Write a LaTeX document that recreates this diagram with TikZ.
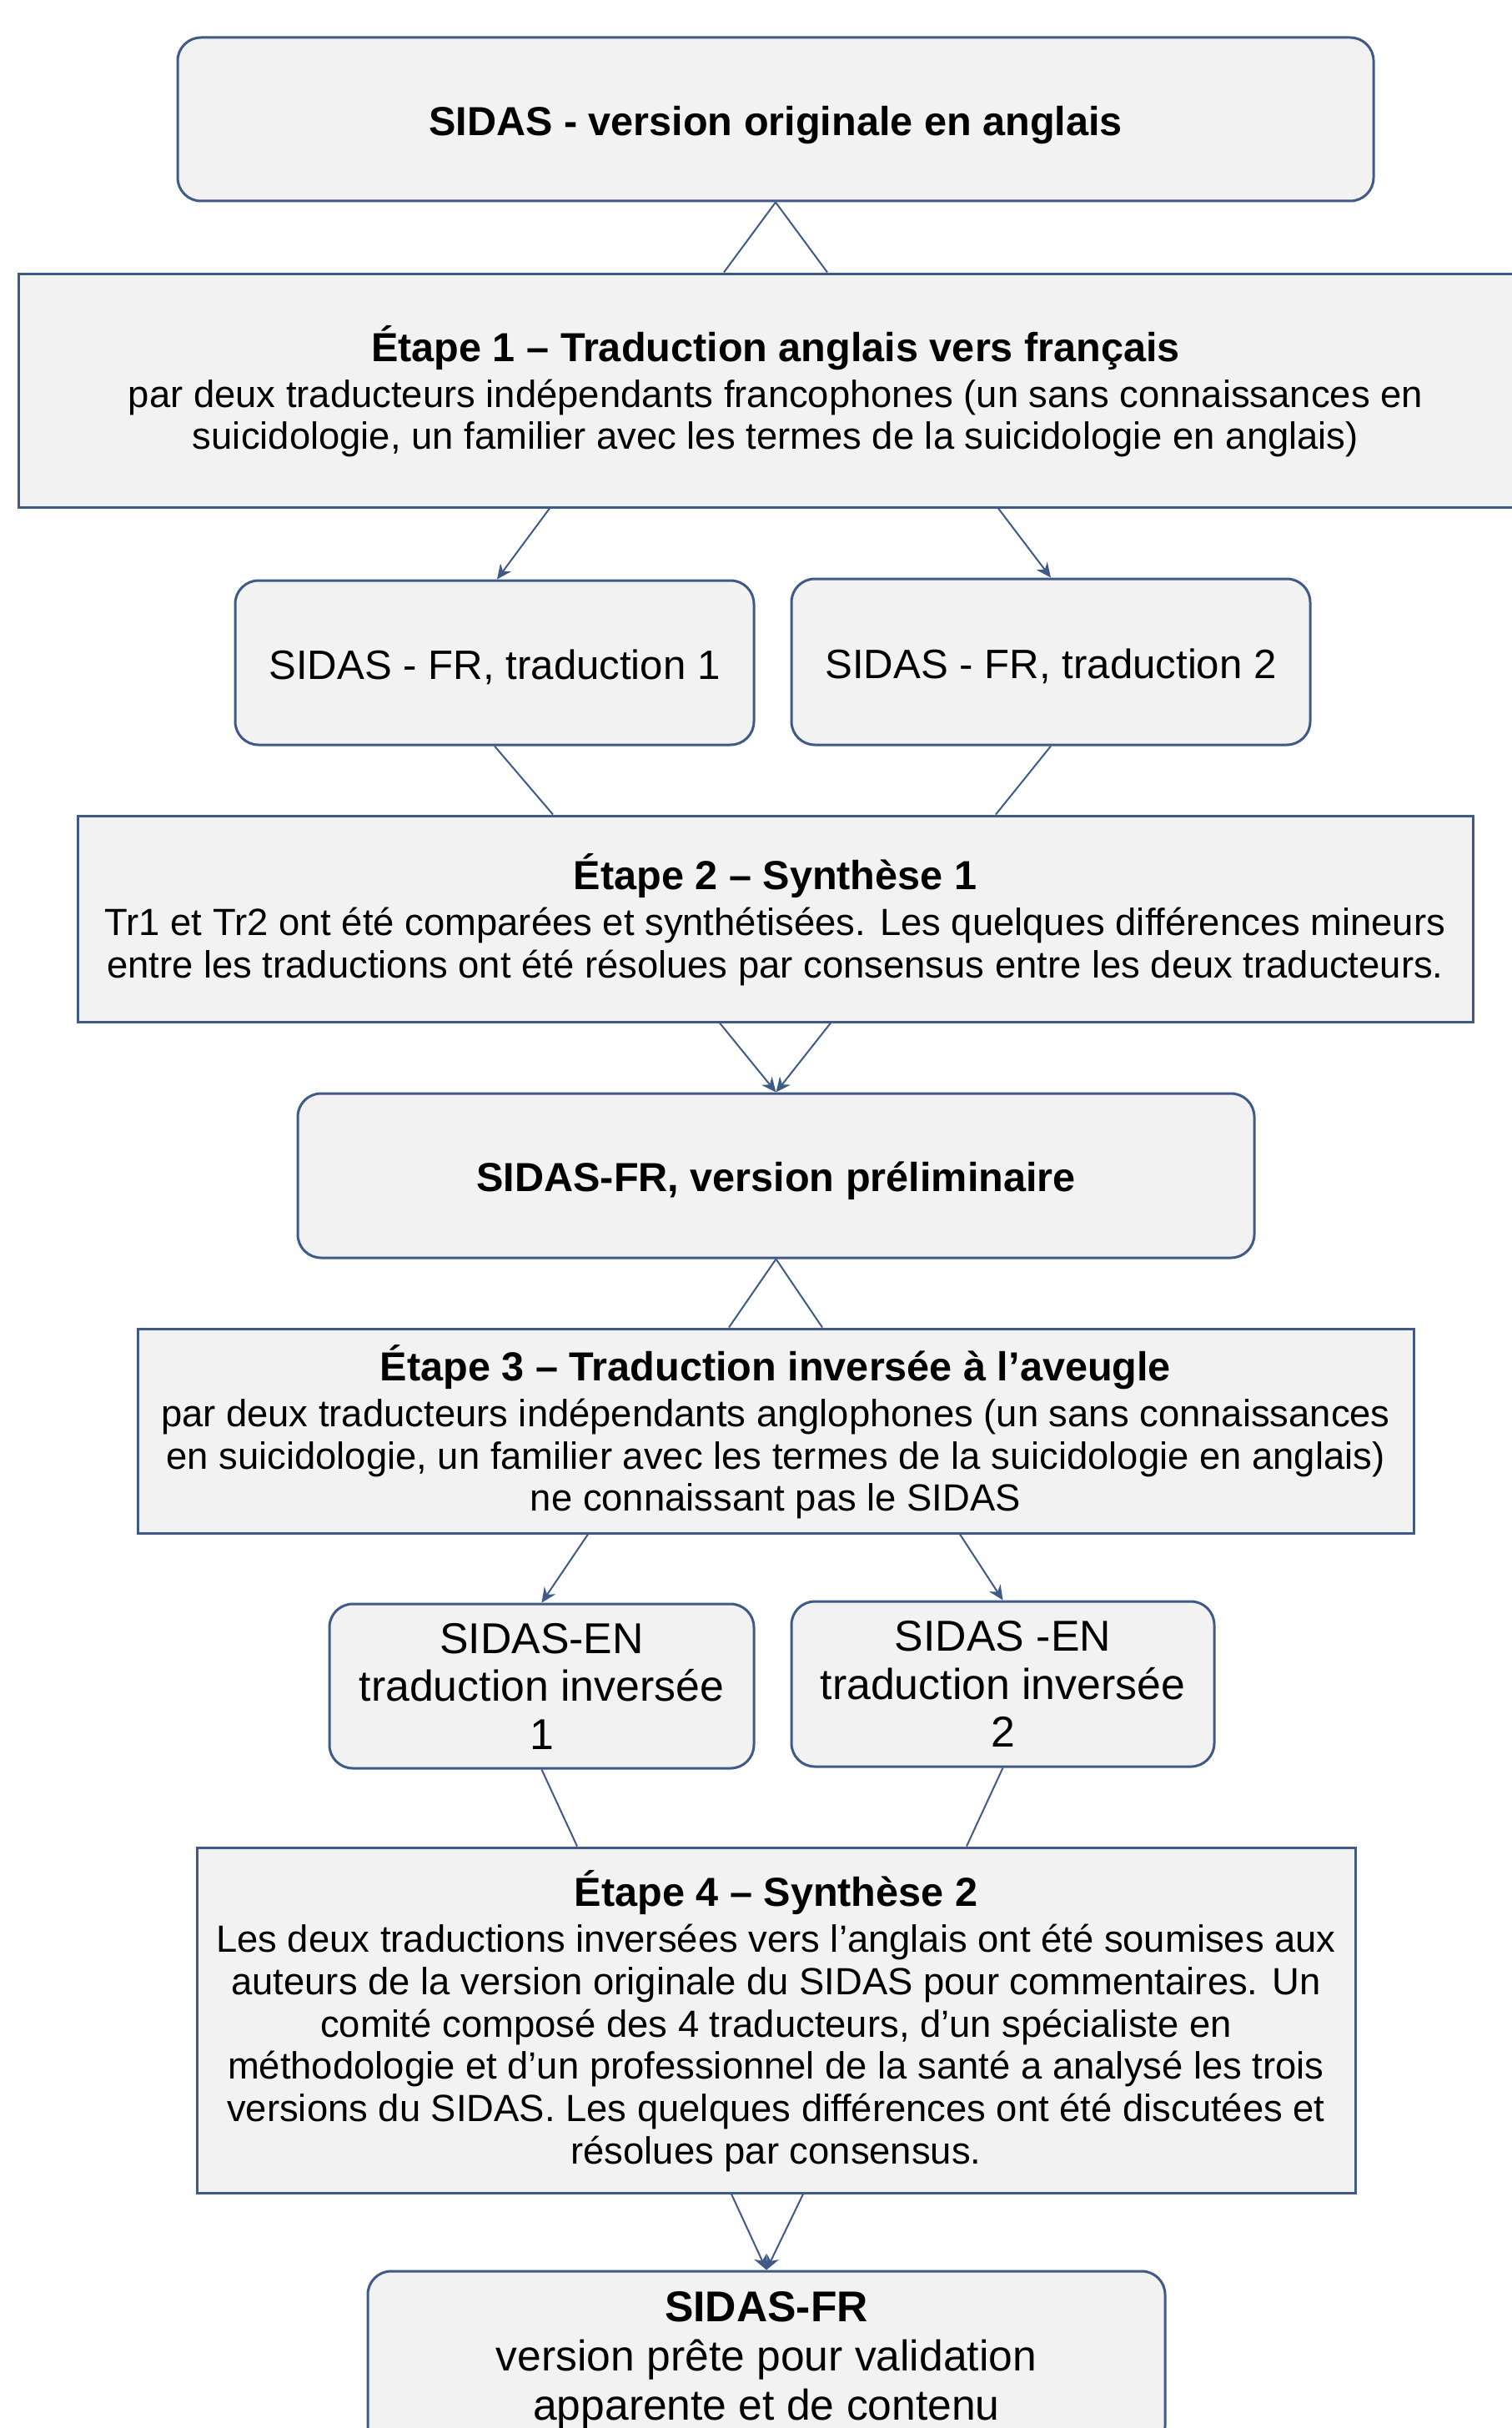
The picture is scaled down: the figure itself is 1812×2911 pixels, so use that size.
\documentclass[tikz,border=0pt]{standalone}
\usepackage{fontspec}
\setmainfont{Liberation Sans}
\usetikzlibrary{calc,arrows.meta}
\definecolor{bordc}{HTML}{3F5A86}
\definecolor{boxfill}{HTML}{F2F2F2}
\tikzset{
  boxbase/.style={draw=bordc, fill=boxfill, line width=0.75pt, inner sep=0pt, align=center, text=black},
  roundbox/.style={boxbase, rounded corners=7pt},
  stepbox/.style={boxbase},
  conn/.style={draw=bordc, line width=0.5pt},
  arr/.style={conn, -{Stealth[length=4.4pt,width=4pt]}},
  bodyfont/.style={font=\fontsize{11.35pt}{12.7pt}\selectfont},
}
\newcommand{\ttl}[1]{{\fontsize{12.15pt}{12.7pt}\selectfont\bfseries\rule{0pt}{11.4pt}#1}}
\begin{document}
\begin{tikzpicture}[x=0.25pt,y=-0.25pt]
\useasboundingbox[fill=white] (0,0) rectangle (1812,2911);

\node[roundbox, minimum width=1434*0.25pt, minimum height=196*0.25pt, text height=9.7pt, text depth=0pt, font=\fontsize{12.15pt}{12.7pt}\selectfont\bfseries] (b1) at (930,143) {SIDAS - version originale en anglais};

\node[stepbox, bodyfont, minimum width=1816*0.25pt, minimum height=280*0.25pt] (s1) at (930,468)
 {\ttl{Étape 1 – Traduction anglais vers français}\\[1pt]
  par deux traducteurs indépendants francophones (un sans connaissances en\\
  suicidologie, un familier avec les termes de la suicidologie en anglais)};

\node[roundbox, minimum width=622*0.25pt, minimum height=197*0.25pt, text height=9.8pt, text depth=0pt, font=\fontsize{12.3pt}{14pt}\selectfont] (fr1) at (593,794.5) {SIDAS - FR, traduction 1};
\node[roundbox, minimum width=622*0.25pt, minimum height=199*0.25pt, text height=9.8pt, text depth=0pt, font=\fontsize{12.3pt}{14pt}\selectfont] (fr2) at (1260,793.5) {SIDAS - FR, traduction 2};

\node[stepbox, bodyfont, minimum width=1673*0.25pt, minimum height=247*0.25pt] (s2) at (929.5,1101.5)
 {\ttl{Étape 2 – Synthèse 1}\\[1pt]
  Tr1 et Tr2 ont été comparées et synthétisées. Les quelques différences mineurs\\
  entre les traductions ont été résolues par consensus entre les deux traducteurs.};

\node[roundbox, minimum width=1147*0.25pt, minimum height=197*0.25pt, text height=9.45pt, text depth=0pt, font=\fontsize{12.15pt}{12.7pt}\selectfont\bfseries] (pre) at (930.5,1409.5) {SIDAS-FR, version préliminaire};

\node[stepbox, bodyfont, minimum width=1530*0.25pt, minimum height=245*0.25pt] (s3) at (930,1715.5)
 {\ttl{Étape 3 – Traduction inversée à l’aveugle}\\[1pt]
  par deux traducteurs indépendants anglophones (un sans connaissances\\
  en suicidologie, un familier avec les termes de la suicidologie en anglais)\\
  ne connaissant pas le SIDAS};

\node[roundbox, minimum width=509*0.25pt, minimum height=197*0.25pt, font=\fontsize{12.95pt}{14.4pt}\selectfont] (en1) at (649.5,2021.5) {SIDAS-EN\\traduction inversée\\1};
\node[roundbox, minimum width=507*0.25pt, minimum height=198*0.25pt, font=\fontsize{12.95pt}{14.4pt}\selectfont] (en2) at (1202.5,2019) {SIDAS -EN\\traduction inversée\\2};

\node[stepbox, bodyfont, minimum width=1389*0.25pt, minimum height=414*0.25pt] (s4) at (930.5,2422)
 {\ttl{Étape 4 – Synthèse 2}\\[1pt]
  Les deux traductions inversées vers l’anglais ont été soumises aux\\
  auteurs de la version originale du SIDAS pour commentaires. Un\\
  comité composé des 4 traducteurs, d’un spécialiste en\\
  méthodologie et d’un professionnel de la santé a analysé les trois\\
  versions du SIDAS. Les quelques différences ont été discutées et\\
  résolues par consensus.};

\node[roundbox, minimum width=956*0.25pt, minimum height=214*0.25pt, font=\fontsize{12.9pt}{14.75pt}\selectfont] (fin) at (919,2830)
 {\textbf{SIDAS-FR}\\version prête pour validation\\apparente et de contenu};

% connectors
\draw[conn] (b1.south) -- ($(s1.north)+(-62,0)$);
\draw[conn] (b1.south) -- ($(s1.north)+(62,0)$);
\draw[arr] ($(s1.south)+(-271,0)$) -- ($(fr1.north)+(3,0)$);
\draw[arr] ($(s1.south)+(267,0)$) -- (fr2.north);
\draw[conn] (fr1.south) -- ($(s2.north)+(-266.5,0)$);
\draw[conn] (fr2.south) -- ($(s2.north)+(264.5,0)$);
\draw[arr] ($(s2.south)+(-66.5,0)$) -- (pre.north);
\draw[arr] ($(s2.south)+(66.5,0)$) -- (pre.north);
\draw[conn] (pre.south) -- ($(s3.north)+(-56,0)$);
\draw[conn] (pre.south) -- ($(s3.north)+(56,0)$);
\draw[arr] ($(s3.south)+(-225,0)$) -- (en1.north);
\draw[arr] ($(s3.south)+(221,0)$) -- (en2.north);
\draw[conn] (en1.south) -- ($(s4.north)+(-238.5,0)$);
\draw[conn] (en2.south) -- ($(s4.north)+(228.5,0)$);
\draw[arr] ($(s4.south)+(-53.5,0)$) -- (fin.north);
\draw[arr] ($(s4.south)+(32.5,0)$) -- (fin.north);
\end{tikzpicture}
\end{document}
